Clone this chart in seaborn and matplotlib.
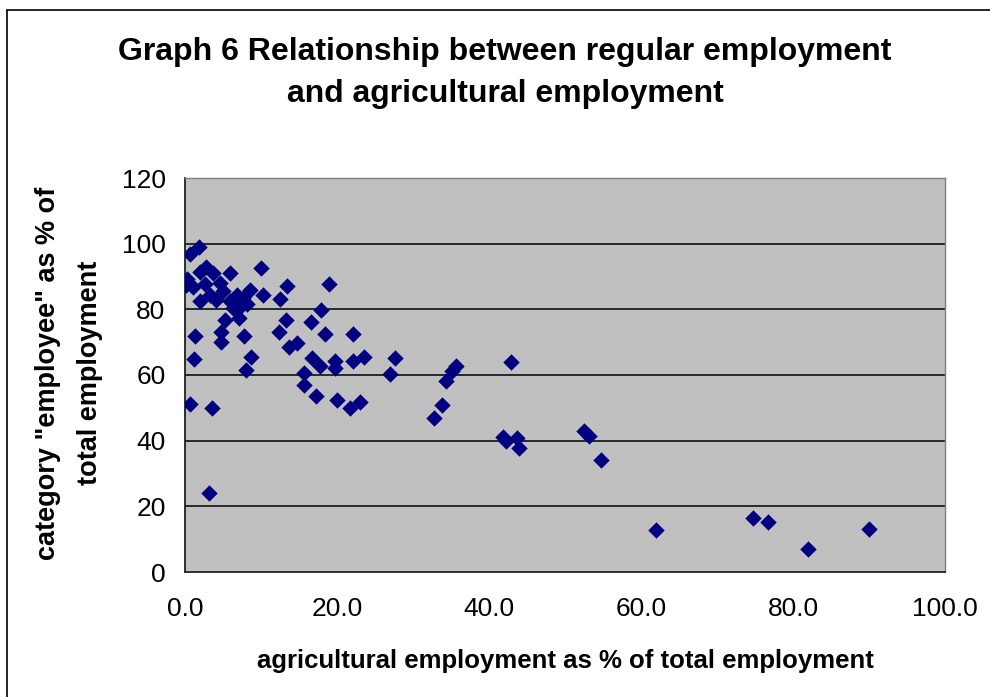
import matplotlib
matplotlib.use("Agg")
import matplotlib.pyplot as plt
from matplotlib.lines import Line2D
import seaborn as sns
import pandas as pd

# Agricultural employment share (%) per country/region
agri_share = [
    0.6, 1.8, 2.8, 10.0, 0.2, 0.1, 5.9, 3.7, 2.0, 1.1,
    2.6, 4.6, 5.0, 3.3, 2.0, 4.1, 5.9, 6.8, 7.6, 8.5,
    8.1, 6.3, 7.0, 10.2, 13.4, 12.5, 5.2, 7.1, 13.3, 4.8,
    1.3, 7.7, 12.4, 4.7, 13.7, 14.7, 1.2, 8.7, 8.0, 0.7,
    3.6, 3.1, 18.9, 17.9, 16.6, 18.4, 22.1, 16.7, 17.7, 19.7,
    19.7, 22.1, 23.5, 27.6, 27.0, 15.6, 15.7, 17.3, 20.0, 21.7,
    23.0, 32.8, 33.8, 34.3, 35.1, 35.7, 42.9, 41.9, 42.2, 43.7,
    43.9, 52.5, 53.2, 54.8, 62.0, 74.8, 76.7, 82.0, 90.0,
]
# Share of category "employee" in total employment (%)
employee_share = [
    97.0, 99.0, 93.0, 92.7, 89.3, 87.5, 91.2, 91.0, 91.5, 86.7,
    87.6, 88.0, 85.5, 84.5, 82.4, 82.9, 82.4, 84.5, 83.5, 86.0,
    81.5, 80.5, 80.0, 84.5, 87.0, 83.0, 76.8, 77.4, 76.6, 73.2,
    71.9, 71.9, 73.2, 70.0, 68.5, 69.7, 64.9, 65.5, 61.6, 51.2,
    49.9, 24.0, 87.6, 79.8, 76.1, 72.6, 72.6, 65.2, 62.6, 64.3,
    62.2, 64.3, 65.6, 65.2, 60.4, 60.6, 57.0, 53.6, 52.4, 49.9,
    51.7, 47.0, 50.9, 58.3, 61.2, 62.7, 64.1, 41.2, 40.0, 40.7,
    37.9, 43.0, 41.5, 34.1, 12.8, 16.4, 15.2, 7.0, 13.0,
]

x_ticks = [0, 20, 40, 60, 80, 100]
x_tick_labels = ["0.0", "20.0", "40.0", "60.0", "80.0", "100.0"]
y_ticks = [0, 20, 40, 60, 80, 100, 120]

df = pd.DataFrame({"agri": agri_share, "employee": employee_share})

sns.set_theme(style="white")
plt.rcParams["font.family"] = ["Liberation Sans", "DejaVu Sans"]
plt.rcParams["text.color"] = "black"
plt.rcParams["xtick.color"] = "black"
plt.rcParams["ytick.color"] = "black"

W, H = 990, 697
fig = plt.figure(figsize=(W / 100, H / 100), dpi=100)
fig.patch.set_facecolor("white")

left, right, top, bottom = 185, 945, 178, 572
ax = fig.add_axes([left / W, 1 - bottom / H, (right - left) / W, (bottom - top) / H])
ax.set_facecolor("#C0C0C0")

sns.scatterplot(data=df, x="agri", y="employee", marker="D", s=70,
                color="#000080", linewidth=0, ax=ax, zorder=3)

ax.set_xlim(0, 100)
ax.set_ylim(0, 120)
ax.set_xticks(x_ticks)
ax.set_xticklabels(x_tick_labels)
ax.set_yticks(y_ticks)
ax.set_xlabel("")
ax.set_ylabel("")

ax.grid(False)
for yv in y_ticks[1:-1]:
    ax.axhline(yv, color="black", lw=1.1, zorder=1)

ax.tick_params(axis="both", which="major", direction="out", length=8,
               width=1, color="black", labelsize=19, labelcolor="black")
ax.tick_params(axis="x", pad=10)
ax.tick_params(axis="y", pad=6)

for side in ["left", "bottom"]:
    ax.spines[side].set_color("#202020")
    ax.spines[side].set_linewidth(1.3)
for side in ["top", "right"]:
    ax.spines[side].set_visible(True)
    ax.spines[side].set_color("#808080")
    ax.spines[side].set_linewidth(1.0)

fig.text(0.51, 1 - 73 / H,
         "Graph 6 Relationship between regular employment\nand agricultural employment",
         ha="center", va="center", fontsize=23, fontweight="bold",
         linespacing=1.55, color="black")

fig.text(565 / W, 1 - 661 / H,
         "agricultural employment as % of total employment",
         ha="center", va="center", fontsize=18.5, fontweight="bold",
         color="black")

fig.text(69 / W, 1 - 373 / H,
         "category \"employee\" as % of\ntotal employment",
         ha="center", va="center", rotation=90, fontsize=19.5,
         fontweight="bold", linespacing=1.8, multialignment="center",
         color="black")

# chart frame edges
fig.add_artist(Line2D([7 / W, 7 / W], [0, 1 - 10 / H], color="black", lw=1.2,
                      transform=fig.transFigure))
fig.add_artist(Line2D([7 / W, 1], [1 - 10 / H, 1 - 10 / H], color="black", lw=1.2,
                      transform=fig.transFigure))

fig.savefig("out.png", dpi=100)
